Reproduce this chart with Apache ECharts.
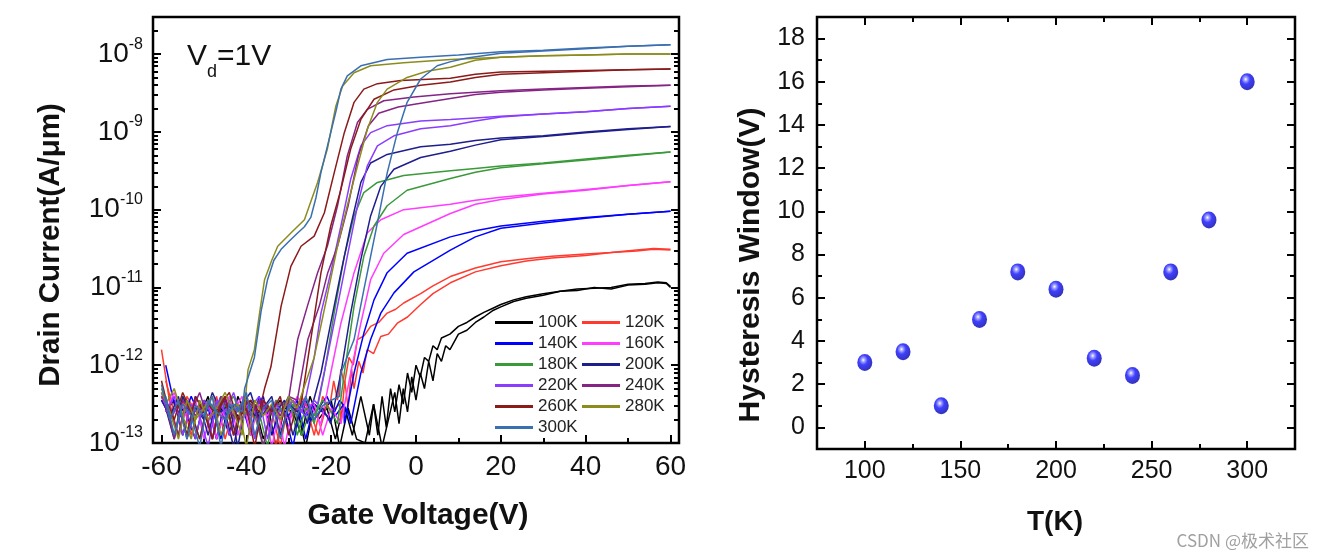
<!DOCTYPE html>
<html>
<head>
<meta charset="utf-8">
<script src="https://cdn.jsdelivr.net/npm/echarts@6.0.0/dist/echarts.min.js"></script>
<style>html,body{margin:0;padding:0;background:#fff}#c{width:1324px;height:560px}</style>
</head>
<body>
<div id="c"></div>
<script>
// ---------------- data ----------------
const temps = ['100K','120K','140K','160K','180K','200K','220K','240K','260K','280K','300K'];
const tempK = [100,120,140,160,180,200,220,240,260,280,300];
const hysteresisV = [3.0,3.5,1.0,5.0,7.2,6.4,3.2,2.4,7.2,9.6,16.0];

const xTicksLeft = [-60,-40,-20,0,20,40,60];
const xMinorLeft = [-50,-30,-10,10,30,50];
const yTicksLeft = [1e-13,1e-12,1e-11,1e-10,1e-9,1e-8];
const xTicksRight = [100,150,200,250,300];
const xMinorRight = [125,175,225,275];
const yTicksRight = [0,2,4,6,8,10,12,14,16,18];
const yMinorRight = [1,3,5,7,9,11,13,15,17];

// gate-voltage grids of the noise-floor readings (V)
const floorGridUp = [-60,-58,-56,-54,-52,-50,-48,-46,-44,-42,-40,-38,-36,-34,-32,-30,-28,-26,-24,-22,-20,-18,-16,-14,-12,-10,-8,-6,-4,-2];
const floorGridDn = [-59,-57,-55,-53,-51,-49,-47,-45,-43,-41,-39,-37,-35,-33,-31,-29,-27,-25,-23,-21,-19,-17,-15,-13,-11,-9,-7,-5,-3,-1];

// log10 of drain current (A/um): noise floor values and [Vg, log10 Id] of rising / on-state part
const floorUp100 = [-12.4,-12.7,-12.5,-12.65,-12.95,-12.45,-12.6,-12.55,-12.9,-12.4,-12.65,-12.5,-12.95,-12.6,-12.45,-12.7,-12.55,-13.05,-12.5,-12.6,-12.45,-13.05,-12.55,-12.95,-13.0,-12.5,-13.05];
const riseUp100 = [[-6.5,-12.7],[-5,-12.35],[-4,-12.75],[-3,-12.3],[-2,-12.6],[-1,-12.15],[0,-12.45],[1,-12.1],[2,-12.3],[3,-11.95],[4,-12.2],[5,-11.85],[6,-11.95],[7,-11.75],[8,-11.8],[10,-11.6],[12,-11.55],[14,-11.45],[16,-11.38],[18,-11.3],[20,-11.25],[23,-11.18],[26,-11.14],[30,-11.1],[34,-11.05],[38,-11.04],[42,-11.0],[46,-11.02],[50,-10.97],[54,-10.96],[57,-10.94],[59,-10.95],[60,-11.0]];
const floorDn100 = [-12.6,-12.45,-12.9,-12.5,-12.65,-12.4,-12.95,-12.55,-12.6,-12.7,-12.45,-12.65,-12.5,-13.05,-12.55,-12.6,-12.9,-12.4,-12.7,-12.55,-12.95,-12.5,-12.9,-12.4,-12.9];
const riseDn100 = [[-10,-12.5],[-9,-12.9],[-8,-12.4],[-7,-12.8],[-6,-12.3],[-5,-12.6],[-4,-12.25],[-3,-12.5],[-2,-12.1],[-1,-12.35],[0,-12.0],[1,-12.15],[2,-11.9],[3,-11.95],[4,-11.75],[5,-11.8],[6,-11.65],[8,-11.6],[10,-11.5],[12,-11.45],[14,-11.38],[16,-11.32],[18,-11.27],[20,-11.22],[23,-11.16],[26,-11.12],[30,-11.08],[34,-11.05],[38,-11.02],[42,-11.01],[46,-11.0],[50,-10.96],[54,-10.95],[57,-10.93],[59,-10.94],[60,-10.99]];

const floorUp120 = [-11.8,-12.5,-12.9,-12.4,-12.6,-12.5,-12.95,-12.45,-12.65,-12.55,-12.4,-12.7,-12.5,-12.6,-13.05,-12.45,-12.65,-12.5,-12.9,-12.4,-12.6,-12.5];
const riseUp120 = [[-17.7,-12.75],[-16.8,-12.2],[-16,-12.55],[-15.2,-12.05],[-14.6,-12.3],[-13.5,-11.95],[-12.5,-12.1],[-11.5,-11.8],[-10,-11.85],[-8.3,-11.63],[-6.5,-11.6],[-4.4,-11.46],[-2,-11.38],[1.1,-11.22],[4,-11.08],[8.1,-10.94],[14,-10.8],[20,-10.72],[26,-10.66],[32,-10.62],[40,-10.59],[46,-10.55],[52,-10.53],[56,-10.51],[60,-10.52]];
const floorDn120 = [-12.2,-12.6,-12.45,-12.9,-12.5,-12.65,-12.4,-12.95,-12.55,-12.5,-12.7,-12.45,-12.6,-13.05,-12.5,-12.65,-12.4,-12.6,-12.9,-12.5];
const riseDn120 = [[-20.1,-12.45],[-19.4,-12.2],[-18.5,-12.45],[-17.7,-12.05],[-16.9,-12.25],[-15.8,-11.9],[-14.8,-12.0],[-13.8,-11.67],[-12.2,-11.62],[-10.7,-11.5],[-8.8,-11.45],[-6.8,-11.33],[-4.8,-11.28],[-2.9,-11.2],[1.1,-11.08],[4,-10.98],[8.1,-10.86],[14,-10.75],[20,-10.67],[26,-10.63],[32,-10.6],[40,-10.57],[46,-10.55],[52,-10.52],[56,-10.5],[60,-10.51]];

const floorUp140 = [-12.45,-12.65,-12.5,-12.9,-12.4,-12.6,-12.55,-12.95,-12.45,-12.7,-12.5,-12.6,-12.4,-12.9,-12.55,-12.65,-12.45,-12.95,-12.5,-12.6,-12.7,-12.45,-12.6];
const riseUp140 = [[-15.4,-12.75],[-13,-12.1],[-10.7,-11.67],[-8.3,-11.33],[-5.2,-11.07],[-0.5,-10.8],[8.1,-10.52],[14,-10.35],[20,-10.24],[30,-10.17],[40,-10.11],[50,-10.06],[60,-10.02]];
const floorDn140 = [-12.0,-12.5,-12.7,-12.4,-12.65,-12.55,-12.95,-12.45,-12.6,-12.5,-12.9,-12.4,-12.65,-12.5,-12.6,-13.05,-12.45,-12.7,-12.55,-12.4,-12.65,-12.5];
const riseDn140 = [[-16.9,-12.75],[-14.6,-12.1],[-12.3,-11.59],[-9.9,-11.16],[-6.8,-10.81],[-2.1,-10.56],[8.1,-10.35],[14,-10.27],[20,-10.21],[30,-10.15],[40,-10.1],[50,-10.06],[60,-10.02]];

const floorUp160 = [-12.4,-12.7,-12.5,-12.6,-12.45,-12.95,-12.55,-12.65,-12.4,-12.9,-12.5,-12.6,-12.45,-13.05,-12.55,-12.7,-12.4,-12.6,-12.5,-12.9,-12.55];
const riseUp160 = [[-17.7,-12.75],[-15.4,-12.1],[-13,-11.46],[-10.7,-10.9],[-7.6,-10.56],[-2.9,-10.32],[8.1,-10.05],[14,-9.93],[20,-9.87],[30,-9.8],[40,-9.75],[50,-9.69],[60,-9.64]];
const floorDn160 = [-12.6,-12.35,-12.7,-12.5,-12.65,-12.45,-12.95,-12.55,-12.6,-12.4,-12.9,-12.5,-12.65,-12.45,-13.05,-12.55,-12.6,-12.5,-12.7];
const riseDn160 = [[-22.4,-12.75],[-20.1,-12.1],[-17.7,-11.46],[-14.6,-10.81],[-11.5,-10.3],[-8.3,-10.13],[-2.9,-10.0],[8.1,-9.93],[14,-9.88],[20,-9.84],[30,-9.79],[40,-9.74],[50,-9.69],[60,-9.64]];

const floorUp180 = [-12.3,-12.6,-12.9,-12.45,-12.65,-12.5,-12.95,-12.4,-12.7,-12.55,-12.45,-12.65,-13.05,-12.5,-12.6,-12.4,-12.9,-12.55,-12.65,-12.45,-12.6];
const riseUp180 = [[-18.5,-12.75],[-16.9,-12.1],[-14.6,-11.24],[-12.3,-10.6],[-9.9,-10.21],[-6.8,-9.95],[-2.1,-9.75],[8.1,-9.6],[14,-9.52],[20,-9.46],[30,-9.41],[40,-9.36],[50,-9.31],[60,-9.26]];
const floorDn180 = [-12.5,-12.9,-12.4,-12.6,-12.95,-12.45,-12.65,-12.55,-12.4,-12.7,-12.5,-12.6,-13.05,-12.45,-12.65,-12.5,-12.9,-12.6];
const riseDn180 = [[-24,-12.75],[-21.6,-12.1],[-19.3,-11.33],[-16.9,-10.6],[-14.6,-10.08],[-12.3,-9.78],[-9.1,-9.65],[-2.9,-9.56],[8.1,-9.5],[14,-9.47],[20,-9.44],[30,-9.4],[40,-9.35],[50,-9.3],[60,-9.26]];

const floorUp200 = [-12.45,-12.65,-12.4,-12.95,-12.55,-12.7,-12.35,-12.6,-12.5,-13.05,-12.45,-12.65,-12.55,-12.4,-12.9,-12.5,-12.6,-12.45,-12.7,-12.55];
const riseUp200 = [[-20.1,-12.75],[-17.7,-12.1],[-15.4,-11.33],[-13,-10.64],[-10.7,-10.08],[-8.3,-9.7],[-5.2,-9.48],[1.1,-9.33],[8.1,-9.25],[14,-9.17],[20,-9.1],[30,-9.06],[40,-9.01],[50,-8.97],[60,-8.93]];
const floorDn200 = [-12.55,-12.95,-12.4,-12.65,-12.5,-12.9,-12.45,-12.6,-13.05,-12.5,-12.35,-12.7,-12.55,-12.6,-12.45,-12.9,-12.5];
const riseDn200 = [[-25.6,-12.75],[-22.4,-12.1],[-20.1,-11.46],[-17.7,-10.81],[-15.4,-10.21],[-13,-9.65],[-10.7,-9.4],[-6.8,-9.29],[1.1,-9.19],[8.1,-9.16],[14,-9.11],[20,-9.08],[30,-9.05],[40,-9.0],[50,-8.96],[60,-8.93]];

const floorUp220 = [-12.35,-12.7,-12.5,-12.6,-12.95,-12.45,-12.65,-12.4,-12.9,-12.55,-12.5,-12.95,-12.45,-12.6,-12.7,-12.4,-12.55,-12.65,-12.45];
const riseUp220 = [[-23.2,-12.5],[-20.9,-11.9],[-18.5,-11.24],[-16.2,-10.6],[-13.8,-9.95],[-11.5,-9.44],[-9.1,-9.18],[-5.2,-9.05],[1.1,-8.96],[8.1,-8.92],[14,-8.86],[20,-8.81],[30,-8.77],[40,-8.74],[50,-8.7],[60,-8.67]];
const floorDn220 = [-12.6,-12.4,-12.9,-12.5,-12.65,-13.05,-12.45,-12.6,-12.35,-12.7,-12.55,-12.4,-12.95,-12.5,-12.65,-12.45,-12.6];
const riseDn220 = [[-26.3,-12.5],[-24,-11.9],[-22.4,-11.33],[-20.1,-10.81],[-17.7,-10.21],[-15.4,-9.61],[-13,-9.18],[-10.7,-9.01],[-6.8,-8.92],[1.1,-8.86],[8.1,-8.84],[14,-8.82],[20,-8.8],[30,-8.77],[40,-8.74],[50,-8.7],[60,-8.67]];

const floorUp240 = [-12.4,-12.55,-12.9,-12.45,-12.65,-12.5,-12.95,-12.4,-12.6,-12.7,-12.45,-12.55,-13.05,-12.5,-12.65,-12.4];
const riseUp240 = [[-28,-12.45],[-25.5,-11.67],[-22.8,-11.24],[-20.8,-10.81],[-18.5,-10.47],[-16,-9.95],[-13.6,-9.31],[-11.2,-8.92],[-8.8,-8.76],[-4.2,-8.68],[0,-8.64],[8.1,-8.57],[14,-8.52],[20,-8.49],[30,-8.46],[40,-8.44],[50,-8.42],[60,-8.4]];
const floorDn240 = [-12.5,-12.95,-12.45,-12.6,-12.35,-12.7,-12.55,-12.4,-12.9,-12.5,-12.65,-12.45,-12.6,-12.5];
const riseDn240 = [[-30.2,-12.5],[-27.9,-11.67],[-25.6,-11.24],[-23.2,-10.81],[-20.9,-10.47],[-18.5,-9.95],[-16.2,-9.31],[-13.8,-8.88],[-11.5,-8.71],[-7.6,-8.6],[-0.5,-8.55],[8.1,-8.51],[14,-8.49],[20,-8.47],[30,-8.45],[40,-8.43],[50,-8.41],[60,-8.4]];

const floorUp260 = [-12.2,-12.65,-12.5,-12.9,-12.4,-12.6,-12.95,-12.5,-12.35,-12.7,-12.55,-13.05,-12.45,-12.6,-12.4,-12.9,-12.5];
const riseUp260 = [[-27.1,-12.5],[-24.8,-11.67],[-22.4,-10.81],[-20.1,-10.21],[-17.7,-9.74],[-15.4,-9.22],[-13,-8.84],[-9.9,-8.58],[-5.2,-8.46],[1.1,-8.4],[8.1,-8.36],[14,-8.3],[20,-8.26],[30,-8.24],[40,-8.22],[50,-8.2],[60,-8.19]];
const floorDn260 = [-12.45,-12.7,-12.35,-12.6,-12.95,-12.5,-12.65,-12.4,-12.9,-12.55,-12.45,-12.6];
const riseDn260 = [[-35.7,-12.3],[-34.2,-12.02],[-31.8,-11.24],[-29.5,-10.73],[-27.1,-10.47],[-24,-10.34],[-21.6,-10.04],[-19.3,-9.53],[-16.9,-9.01],[-14.6,-8.62],[-12.3,-8.45],[-9.1,-8.38],[-3.6,-8.34],[8.1,-8.31],[14,-8.26],[20,-8.23],[30,-8.22],[40,-8.21],[50,-8.2],[60,-8.19]];

const floorUp280 = [-12.35,-12.6,-12.95,-12.45,-12.7,-12.55,-12.4,-12.9,-12.6,-12.5,-13.05,-12.45,-12.65,-12.5,-12.7,-12.4,-12.55];
const riseUp280 = [[-27.1,-12.4],[-24,-11.9],[-20.9,-11.1],[-18.5,-10.47],[-16.2,-9.95],[-13.8,-9.44],[-11.5,-8.97],[-9.1,-8.62],[-6.8,-8.45],[-2.1,-8.3],[2.6,-8.22],[8.1,-8.17],[14,-8.08],[20,-8.04],[30,-8.02],[40,-8.01],[50,-8.0],[60,-8.0]];
const floorDn280 = [-12.5,-12.3,-12.65,-12.95,-12.45,-12.7,-12.55,-12.35,-12.6,-12.9];
const riseDn280 = [[-39.6,-12.06],[-38.1,-11.8],[-36.8,-11.3],[-35.7,-10.9],[-34,-10.65],[-32.6,-10.47],[-29.5,-10.3],[-26.3,-10.13],[-24.5,-9.85],[-23.2,-9.65],[-20.9,-9.22],[-18.9,-8.67],[-17.3,-8.41],[-14.6,-8.24],[-10.7,-8.15],[-2.9,-8.11],[8.1,-8.07],[20,-8.04],[30,-8.02],[40,-8.01],[50,-8.0],[60,-8.0]];

const floorUp300 = [-12.25,-12.7,-12.45,-12.95,-12.52,-12.65,-12.4,-13.05,-12.5,-12.6,-12.35,-12.9,-12.55,-12.45,-12.95,-12.5,-12.65,-12.4,-12.7,-12.52,-12.45];
const riseUp300 = [[-18,-12.4],[-17.7,-12.1],[-14.6,-11.67],[-12.3,-11.03],[-9.1,-10.17],[-6.8,-9.53],[-4.4,-9.01],[-2.1,-8.62],[1.1,-8.32],[5,-8.15],[8,-8.1],[12,-8.05],[20,-7.99],[30,-7.96],[40,-7.93],[50,-7.9],[60,-7.88]];
const floorDn300 = [-12.4,-12.9,-12.5,-12.65,-13.05,-12.45,-12.6,-12.7,-12.5,-12.6];
const riseDn300 = [[-40.4,-12.3],[-38.1,-11.9],[-36.5,-11.3],[-35,-10.9],[-33.5,-10.65],[-31.8,-10.51],[-29.8,-10.4],[-27.9,-10.3],[-26.3,-10.22],[-24.8,-10.1],[-23.6,-9.85],[-22.4,-9.52],[-20.1,-9.01],[-18.8,-8.72],[-17.7,-8.45],[-16.2,-8.28],[-13,-8.15],[-6.8,-8.07],[1.1,-8.04],[10,-8.01],[20,-7.97],[30,-7.95],[40,-7.92],[50,-7.9],[60,-7.88]];

const sweeps = [
  [floorUp100, riseUp100, floorDn100, riseDn100],
  [floorUp120, riseUp120, floorDn120, riseDn120],
  [floorUp140, riseUp140, floorDn140, riseDn140],
  [floorUp160, riseUp160, floorDn160, riseDn160],
  [floorUp180, riseUp180, floorDn180, riseDn180],
  [floorUp200, riseUp200, floorDn200, riseDn200],
  [floorUp220, riseUp220, floorDn220, riseDn220],
  [floorUp240, riseUp240, floorDn240, riseDn240],
  [floorUp260, riseUp260, floorDn260, riseDn260],
  [floorUp280, riseUp280, floorDn280, riseDn280],
  [floorUp300, riseUp300, floorDn300, riseDn300]
];

// ---------------- style ----------------
const lineColors = ['#000000','#ff3b30','#0000ff','#ff3cff','#3a9a3a','#1e1e8c','#8a3cff','#862486','#8b1a1a','#8c8c1e','#3a6fb0'];
const FONT = '"Liberation Sans", Arial, sans-serif';

function toPts(grid, floor, rise) {
  const a = floor.map((e, i) => [grid[i], Math.pow(10, e)]);
  return a.concat(rise.map(p => [p[0], Math.pow(10, p[1])]));
}

function tickAxis(gridIndex, type, min, max, position, ticks, length, label) {
  const a = {
    gridIndex: gridIndex, type: type, min: min, max: max, position: position,
    axisLine: {show: false, onZero: false},
    splitLine: {show: false},
    axisTick: {show: true, inside: true, length: length, lineStyle: {color: '#000', width: 2}, customValues: ticks},
    axisLabel: label ? label : {show: false}
  };
  if (type === 'log') a.logBase = 10;
  return a;
}

const logMinor = [];
for (let e = -13; e <= -9; e++) for (let k = 2; k <= 9; k++) logMinor.push(k * Math.pow(10, e));
logMinor.push(2e-8);

const labelL = {customValues: xTicksLeft, fontSize: 28, margin: 10, color: '#111', fontFamily: FONT};
const labelLogY = {
  customValues: yTicksLeft, margin: 10, color: '#111', fontFamily: FONT,
  formatter: function (v) { return '{b|10}{s|' + Math.round(Math.log10(v)) + '}'; },
  rich: {
    b: {fontSize: 28, lineHeight: 36, verticalAlign: 'middle', fontFamily: FONT, color: '#111'},
    s: {fontSize: 16, lineHeight: 16, verticalAlign: 'top', fontFamily: FONT, color: '#111'}
  }
};
const labelRX = {customValues: xTicksRight, fontSize: 25, margin: 10, color: '#111', fontFamily: FONT};
const labelRY = {customValues: yTicksRight, fontSize: 25, margin: 12, color: '#111', fontFamily: FONT};

const series = [];
temps.forEach((t, i) => {
  const s = sweeps[i];
  const common = {
    name: t, type: 'line', xAxisIndex: 0, yAxisIndex: 0, symbol: 'none', color: lineColors[i],
    lineStyle: {width: 1.5, color: lineColors[i]}, clip: true, animation: false, z: 2 + i
  };
  series.push(Object.assign({}, common, {data: toPts(floorGridUp, s[0], s[1])}));
  series.push(Object.assign({}, common, {data: toPts(floorGridDn, s[2], s[3])}));
});
series.push({
  type: 'scatter', xAxisIndex: 2, yAxisIndex: 4, symbolSize: [15, 17], animation: false, z: 5,
  data: tempK.map((k, i) => [k, hysteresisV[i]]),
  itemStyle: {
    color: {type: 'radial', x: 0.4, y: 0.35, r: 0.65, colorStops: [
      {offset: 0, color: '#ffffff'}, {offset: 0.18, color: '#8a8aff'}, {offset: 0.45, color: '#1010ff'}, {offset: 1, color: '#0000a8'}]}
  }
});

const legendCommon = {
  orient: 'vertical', icon: 'rect', itemWidth: 38, itemHeight: 3, itemGap: 4, padding: 0, selectedMode: false,
  textStyle: {fontSize: 17, color: '#222', fontFamily: FONT}
};

const chart = echarts.init(document.getElementById('c'), null, {renderer: 'canvas'});
chart.setOption({
  animation: false,
  backgroundColor: '#ffffff',
  textStyle: {fontFamily: FONT},
  grid: [
    {left: 153, top: 17, width: 526, height: 426, show: true, borderColor: '#000', borderWidth: 2.5, backgroundColor: 'transparent'},
    {left: 817, top: 17, width: 478, height: 432, show: true, borderColor: '#000', borderWidth: 2.5, backgroundColor: 'transparent'}
  ],
  xAxis: [
    tickAxis(0, 'value', -62, 62, 'bottom', xTicksLeft, 8, labelL),
    tickAxis(0, 'value', -62, 62, 'bottom', xMinorLeft, 5, null),
    tickAxis(1, 'value', 75, 325, 'bottom', xTicksRight, 8, labelRX),
    tickAxis(1, 'value', 75, 325, 'bottom', xMinorRight, 5, null),
    tickAxis(1, 'value', 75, 325, 'top', xTicksRight, 8, null),
    tickAxis(1, 'value', 75, 325, 'top', xMinorRight, 5, null)
  ],
  yAxis: [
    tickAxis(0, 'log', 1e-13, 3e-8, 'left', yTicksLeft, 8, labelLogY),
    tickAxis(0, 'log', 1e-13, 3e-8, 'left', logMinor, 5, null),
    tickAxis(0, 'log', 1e-13, 3e-8, 'right', yTicksLeft, 8, null),
    tickAxis(0, 'log', 1e-13, 3e-8, 'right', logMinor, 5, null),
    tickAxis(1, 'value', -1, 19, 'left', yTicksRight, 8, labelRY),
    tickAxis(1, 'value', -1, 19, 'left', yMinorRight, 5, null),
    tickAxis(1, 'value', -1, 19, 'right', yTicksRight, 8, null),
    tickAxis(1, 'value', -1, 19, 'right', yMinorRight, 5, null)
  ],
  legend: [
    Object.assign({}, legendCommon, {left: 495, top: 314, data: ['100K','140K','180K','220K','260K','300K']}),
    Object.assign({}, legendCommon, {left: 582, top: 314, data: ['120K','160K','200K','240K','280K']})
  ],
  graphic: [
    {type: 'text', x: 187, y: 42, z: 100, style: {
      text: '{a|V}{d|d}{a|=1V}',
      rich: {
        a: {fontSize: 30, lineHeight: 30, verticalAlign: 'top', fontFamily: FONT, fill: '#111'},
        d: {fontSize: 18, lineHeight: 18, padding: [21, 0, 0, 0], verticalAlign: 'top', fontFamily: FONT, fill: '#111'}
      }}},
    {type: 'text', x: 51, y: 245, rotation: Math.PI / 2, style: {text: 'Drain Current(A/\u03bcm)', fontSize: 29.5, fontWeight: 'bold', fontFamily: FONT, fill: '#111', align: 'center', verticalAlign: 'middle'}},
    {type: 'text', x: 418, y: 516, style: {text: 'Gate Voltage(V)', fontSize: 30, fontWeight: 'bold', fontFamily: FONT, fill: '#111', align: 'center', verticalAlign: 'middle'}},
    {type: 'text', x: 751, y: 265, rotation: Math.PI / 2, style: {text: 'Hysteresis Window(V)', fontSize: 30, fontWeight: 'bold', fontFamily: FONT, fill: '#111', align: 'center', verticalAlign: 'middle'}},
    {type: 'text', x: 1055, y: 522, style: {text: 'T(K)', fontSize: 28, fontWeight: 'bold', fontFamily: FONT, fill: '#111', align: 'center', verticalAlign: 'middle'}},
    {type: 'text', x: 1309, y: 541, style: {text: 'CSDN @极术社区', fontSize: 17, fontFamily: '"Noto Sans CJK SC", sans-serif', fill: '#a0a0a0', align: 'right', verticalAlign: 'middle'}}
  ],
  series: series
});
</script>
</body>
</html>
